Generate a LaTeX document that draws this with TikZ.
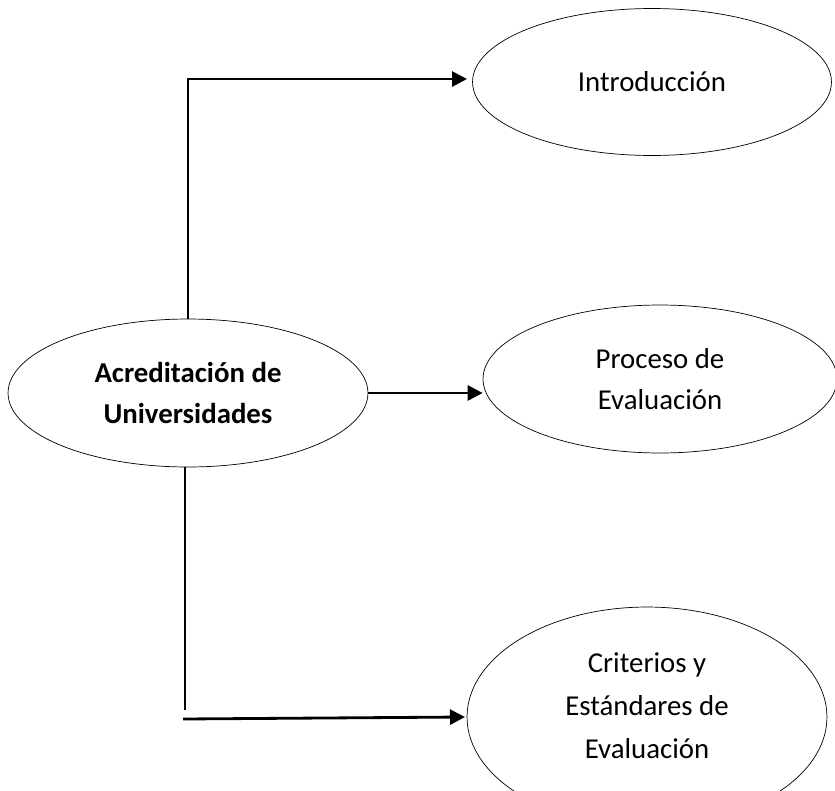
\documentclass[tikz,border=0pt]{standalone}
\usepackage{fontspec}
\setmainfont{Carlito}
\usetikzlibrary{shapes.geometric,arrows.meta}
\begin{document}
\begin{tikzpicture}[x=0.02cm, y=-0.02cm, every node/.style={ellipse}, text centered, line width=.4pt,
	topic/.style={draw, inner sep=0pt, align=center, font=\fontsize{16.4}{23}\selectfont},
	conn/.style={line width=1.6pt, -{Triangle[length=0.3cm, width=0.3cm]}}]
	\useasboundingbox (0,0) rectangle (835,791);
	\node[topic, minimum width=7.2cm, minimum height=2.96cm] (acred) at (188, 393) {\bfseries Acreditación de\\ \bfseries Universidades};
	\node[topic, minimum width=7.18cm, minimum height=2.94cm] (intro) at (652, 82) {Introducción};
	\node[topic, minimum width=7.08cm, minimum height=2.96cm] (proc) at (660, 379) {Proceso de\\ Evaluación};
	\node[topic, minimum width=7.2cm, minimum height=4.4cm, font=\fontsize{16.4}{24.5}\selectfont] (crit) at (647, 717) {Criterios y\\ Estándares de\\ Evaluación\\[-12pt]};
	\coordinate (introIn) at (467, 79);
	\coordinate (bendDown) at (185, 710);
	\coordinate (critFrom) at (183, 719);
	\coordinate (critIn) at (465, 717);
	\draw[conn] (acred.north) |- (introIn);
	\draw[conn] (acred.east) -- (proc.west |- acred.east);
	\draw[line width=1.6pt] (acred.south -| bendDown) -- (bendDown);
	\draw[conn] (critFrom) -- (critIn);
\end{tikzpicture}
\end{document}
